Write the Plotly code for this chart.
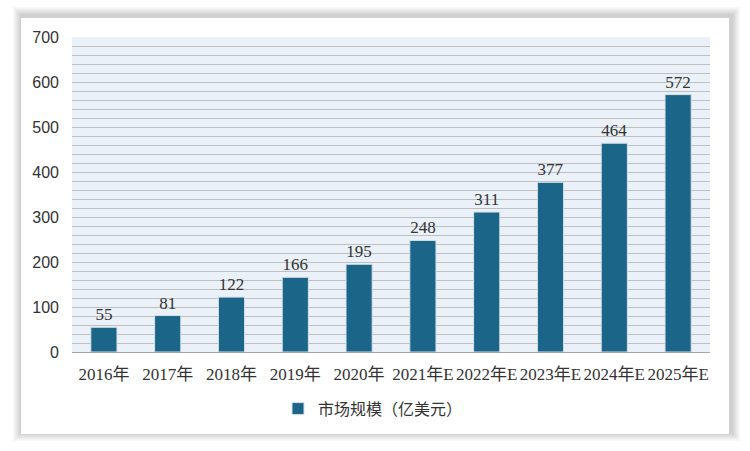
import plotly.graph_objects as go

categories = ["2016年", "2017年", "2018年", "2019年", "2020年", "2021年E", "2022年E", "2023年E", "2024年E", "2025年E"]
values = [55, 81, 122, 166, 195, 248, 311, 377, 464, 572]
series_name = "市场规模（亿美元）"
y_ticks = [0, 100, 200, 300, 400, 500, 600, 700]

W, H = 750, 451
ml, mr, mt, mb = 72, 40, 37, 99
pw, ph = W - ml - mr, H - mt - mb
def px(x): return (x - ml) / pw
def py(y): return (H - mb - y) / ph

fig = go.Figure()
fig.add_trace(go.Bar(
    x=categories, y=values, name=series_name,
    marker=dict(color="#1B6589", line=dict(color="#D8E2EA", width=1)),
    text=[str(v) for v in values], textposition="outside",
    textfont=dict(family="Liberation Serif, Noto Sans CJK SC", size=17, color="#333333"),
    cliponaxis=False, width=0.41,
))

# outer box with soft shadow
shapes = []
box = (21, 17, 729, 433)
shadow_cols = ["#F8F8F8", "#F3F3F3", "#EEEEEE", "#E8E8E8", "#E2E2E2", "#DCDCDC", "#D6D6D6", "#D0D0D0"]
n = len(shadow_cols)
for i, col in enumerate(shadow_cols):
    off = n - i + 1
    shapes.append(dict(type="rect", xref="paper", yref="paper", layer="below",
                       x0=px(box[0] - off + 1), x1=px(box[2] + off + 2),
                       y0=py(H - (box[3] + off + 2)), y1=py(H - (box[1] - off + 2)),
                       fillcolor=col, line=dict(width=0)))
shapes.append(dict(type="rect", xref="paper", yref="paper", layer="below",
                   x0=px(box[0]), x1=px(box[2]), y0=py(H - box[3]), y1=py(H - box[1]),
                   fillcolor="white", line=dict(width=0)))
shapes.append(dict(type="rect", xref="paper", yref="paper", layer="below",
                   x0=0, x1=1, y0=0, y1=1, fillcolor="#EAF1F8", line=dict(width=0)))

fig.update_layout(
    width=W, height=H,
    margin=dict(l=ml, r=mr, t=mt, b=mb),
    paper_bgcolor="white", plot_bgcolor="rgba(0,0,0,0)",
    shapes=shapes,
    bargap=0.59,
    showlegend=True,
    legend=dict(orientation="h", x=0.5 - 18 / pw, xanchor="center", y=-0.18, yanchor="middle",
                font=dict(family="Noto Sans CJK SC, Liberation Sans", size=16, color="#333333"),
                itemwidth=30),
    xaxis=dict(tickfont=dict(family="Liberation Serif, Noto Sans CJK SC", size=17, color="#333333"),
               showline=True, linecolor="#A6A6A6", linewidth=1, ticks="", showgrid=False,
               ticklabelstandoff=7),
    yaxis=dict(range=[0, 700], tickvals=y_ticks,
               tickfont=dict(family="Liberation Sans, Arial", size=16, color="#333333"),
               showgrid=True, gridcolor="#BFBFBF", gridwidth=1,
               minor=dict(dtick=20, showgrid=True, gridcolor="#BFBFBF", gridwidth=1),
               zeroline=False, ticks="", ticklabelstandoff=12),
    font=dict(family="Liberation Sans, Noto Sans CJK SC"),
)
fig.write_html("out.html")
